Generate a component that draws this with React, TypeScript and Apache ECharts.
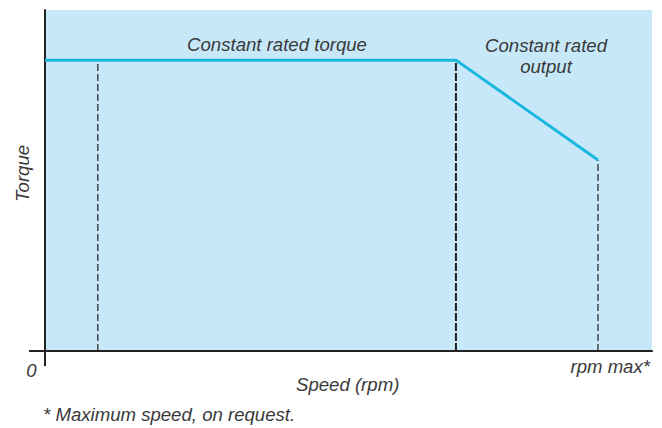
import React, { useEffect, useRef } from "react";
import * as echarts from "echarts";

// Speed (relative units, 0..100) and torque (relative units, 0..100)
const curveSpeed = [0, 67.7, 91.1];
const curveTorque = [85.3, 85.3, 56.0];
// dashed reference verticals: [speed, top torque]
const guideSpeeds = [8.7, 67.7, 91.1];
const guideTops = [85.3, 85.3, 56.0];

const zoneLabels = ["Constant rated torque", "Constant rated", "output"];
const xAxisName = "Speed (rpm)";
const yAxisName = "Torque";
const xTickLabels = ["0", "rpm max*"];
const footnote = "* Maximum speed, on request.";

const FONT = "italic 18.6px 'Liberation Sans', Arial, sans-serif";
const TXT = "#3a3a3a";

function txt(text: string, x: number, y: number, align: string, extra: any = {}) {
  return {
    type: "text",
    x,
    y,
    ...extra,
    style: {
      text,
      font: FONT,
      fill: TXT,
      align,
      textAlign: align,
      verticalAlign: "middle",
      textVerticalAlign: "middle",
    },
  };
}

export default function App() {
  const ref = useRef<HTMLDivElement>(null);
  useEffect(() => {
    document.body.style.margin = "0";
    if (!ref.current) return;
    const chart = echarts.init(ref.current, undefined, { renderer: "svg" });
    const guideSeries = guideSpeeds.map((s, i) => ({
      type: "line",
      data: [
        [s, 0],
        [s, guideTops[i]],
      ],
      symbol: "none",
      z: 2,
      lineStyle: {
        color: "#1e1e1e",
        width: i === 1 ? 2 : 1.2,
        type: i === 1 ? [8, 2] : [7, 3],
      },
      silent: true,
    }));
    chart.setOption({
      animation: false,
      grid: {
        left: 45,
        right: 10,
        top: 10,
        bottom: 77,
        show: true,
        backgroundColor: "#c6e8f8",
        borderWidth: 0,
      },
      xAxis: {
        type: "value",
        min: 0,
        max: 100,
        axisLine: { show: true, lineStyle: { color: "#222", width: 2 } },
        axisTick: { show: false },
        axisLabel: { show: false },
        splitLine: { show: false },
      },
      yAxis: {
        type: "value",
        min: 0,
        max: 100,
        axisLine: { show: true, lineStyle: { color: "#222", width: 2 } },
        axisTick: { show: false },
        axisLabel: { show: false },
        splitLine: { show: false },
      },
      series: [
        ...guideSeries,
        {
          type: "line",
          data: curveSpeed.map((s, i) => [s, curveTorque[i]]),
          symbol: "none",
          z: 5,
          lineStyle: { color: "#1ab7df", width: 3 },
        },
      ],
      graphic: [
        { type: "line", shape: { x1: 29, y1: 351, x2: 46, y2: 351 }, style: { stroke: "#222", lineWidth: 2 } },
        { type: "line", shape: { x1: 45, y1: 350, x2: 45, y2: 366 }, style: { stroke: "#222", lineWidth: 2 } },
        txt(zoneLabels[0], 277, 44.7, "center"),
        txt(zoneLabels[1], 546, 45.7, "center"),
        txt(zoneLabels[2], 546, 66.7, "center"),
        txt(yAxisName, 22, 173.5, "center", { rotation: Math.PI / 2 }),
        txt(xTickLabels[0], 31.5, 370, "center"),
        txt(xTickLabels[1], 650, 366, "right"),
        txt(xAxisName, 296, 384, "left"),
        txt(footnote, 43, 414, "left"),
      ],
    });
    return () => chart.dispose();
  }, []);
  return <div ref={ref} style={{ width: 662, height: 428 }} />;
}
